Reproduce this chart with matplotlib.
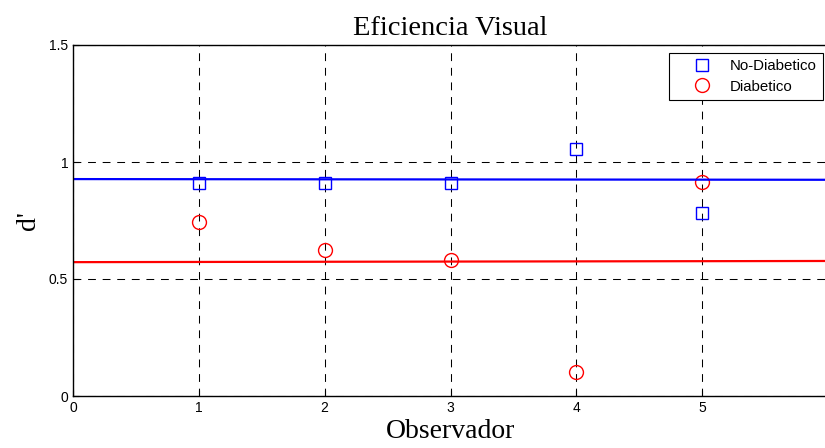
import matplotlib
matplotlib.use("Agg")
import matplotlib.pyplot as plt

observadores = [1, 2, 3, 4, 5]
no_diabetico = [0.912, 0.912, 0.912, 1.054, 0.782]
diabetico = [0.744, 0.625, 0.580, 0.101, 0.913]

# horizontal fitted lines (endpoints)
linea_x = [0, 6]
linea_no_diab = [0.927, 0.924]
linea_diab = [0.572, 0.577]

fig = plt.figure(figsize=(8.25, 4.48), dpi=100)
ax = fig.add_axes([73 / 825, 1 - 396 / 448, 755 / 825, 351 / 448])

ax.plot(observadores, no_diabetico, "s", mfc="none", mec="blue", ms=8.5,
        mew=1.0, label="No-Diabetico")
ax.plot(observadores, diabetico, "o", mfc="none", mec="red", ms=10,
        mew=1.0, label="Diabetico")
ax.plot(linea_x, linea_no_diab, color="blue", lw=1.6)
ax.plot(linea_x, linea_diab, color="red", lw=1.6)

ax.set_xlim(0, 6)
ax.set_ylim(0, 1.5)
ax.set_xticks([0, 1, 2, 3, 4, 5])
ax.set_yticks([0, 0.5, 1, 1.5])
ax.set_yticklabels(["0", "0.5", "1", "1.5"])
ax.grid(True, color="black", linestyle=(0, (7.5, 6.5)), lw=0.75)
ax.tick_params(direction="in", length=4, labelsize=10, width=0.8)
for lab in ax.get_xticklabels() + ax.get_yticklabels():
    lab.set_family("Liberation Sans")
for s in ax.spines.values():
    s.set_linewidth(1.0)

ax.set_title("Eficiencia Visual", family="Liberation Serif", fontsize=20.5, pad=7)
ax.set_xlabel("Observador", family="Liberation Serif", fontsize=20, labelpad=3)
ax.set_ylabel("d'", family="Liberation Serif", fontsize=20, labelpad=6)

leg = ax.legend(loc="upper right", bbox_to_anchor=(750 / 755, 1 - 8 / 351),
                prop={"family": "Liberation Sans", "size": 10.8},
                fancybox=False, edgecolor="black", framealpha=1,
                borderpad=0.4, handlelength=3.6, handletextpad=0.1,
                labelspacing=0.45, borderaxespad=0)
leg.get_frame().set_linewidth(0.8)

fig.savefig("out.png", dpi=100)
